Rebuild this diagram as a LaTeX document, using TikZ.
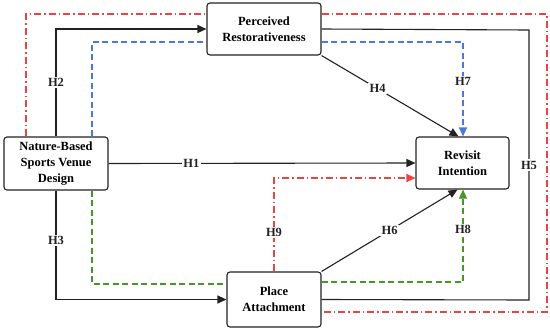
\documentclass[tikz,border=0pt]{standalone}
\usepackage{fontspec}
\setmainfont{Liberation Serif}
\usetikzlibrary{arrows.meta,calc}
\definecolor{lred}{RGB}{232,68,68}
\definecolor{lblue}{RGB}{74,120,220}
\definecolor{lgreen}{RGB}{72,150,40}
\definecolor{lblack}{RGB}{34,34,34}
\begin{document}
\begin{tikzpicture}[x=1pt,y=-1pt,
  box/.style={draw=lblack,line width=1.1pt,rounded corners=3pt,align=center,
    font=\fontsize{12.5}{16}\selectfont\bfseries,inner sep=0pt,fill=white},
  conn/.style={draw=lblack,line width=1.1pt},
  arr/.style={-{Triangle[length=9pt,width=8pt]}},
  bluel/.style={draw=lblue,line width=1.1pt,dash pattern=on 6pt off 3.5pt},
  greenl/.style={draw=lgreen,line width=1.1pt,dash pattern=on 6pt off 3.5pt},
  redl/.style={draw=lred,line width=1.1pt,dash pattern=on 7pt off 3pt on 1.5pt off 3pt},
  lab/.style={fill=white,inner sep=1.5pt,font=\fontsize{12.5}{14}\selectfont\bfseries,text=lblack}]
\useasboundingbox (0,0) rectangle (550,330);
\fill[white] (0,0) rectangle (550,330);
\node[box,minimum width=104pt,minimum height=53pt] (nb) at (56,163.5) {Nature-Based\\Sports Venue\\Design};
\node[box,minimum width=114pt,minimum height=52pt] (pr) at (264,29) {Perceived\\Restorativeness};
\node[box,minimum width=93pt,minimum height=52pt] (ri) at (462.5,163) {Revisit\\Intention};
\node[box,minimum width=94pt,minimum height=55pt] (pa) at (274,299.5) {Place\\Attachment};
\coordinate (rc1) at (547,14);
\coordinate (rc2) at (547,312);
\coordinate (bc) at (529,30);
\coordinate (bc2) at (529,300);
% red dash-dot
\draw[redl] ([xshift=-30pt]nb.north) |- ([yshift=15pt]pr.west);
\draw[redl] ([yshift=15pt]pr.east) -- (rc1) -- (rc2) -- ([yshift=-12.5pt]pa.east);
\draw[redl,arr] (pa.north) |- node[pos=0.21,lab]{H9} ([yshift=-15pt]ri.west);
% blue dashed
\draw[bluel] ([xshift=36pt]nb.north) |- ([yshift=-13pt]pr.west);
\draw[bluel,arr] ([yshift=-13pt]pr.east) -| node[pos=0.71,lab]{H7} ([xshift=0.5pt]ri.north);
% green dashed
\draw[greenl] ([xshift=36pt]nb.south) |- ([yshift=15.5pt]pa.west);
\draw[greenl,arr] ([yshift=17.5pt]pa.east) -| node[pos=0.785,lab]{H8} ([xshift=0.5pt]ri.south);
% black
\draw[conn,arr] (nb.east) -- node[pos=0.27,lab]{H1} (ri.west);
\draw[conn,arr] (nb.north) |- node[pos=0.25,lab]{H2} (pr.west);
\draw[conn,arr] (nb.south) |- node[pos=0.23,lab]{H3} (pa.west);
\draw[conn,arr] (pr.south east) -- node[pos=0.41,lab]{H4} ([xshift=-4pt]ri.north);
\draw[conn] (pr.east) -- (bc) -- node[pos=0.5,lab]{H5} (bc2) -- (pa.east);
\draw[conn,arr] (pa.north east) -- node[pos=0.5,lab]{H6} ([xshift=-5pt]ri.south);
\end{tikzpicture}
\end{document}
